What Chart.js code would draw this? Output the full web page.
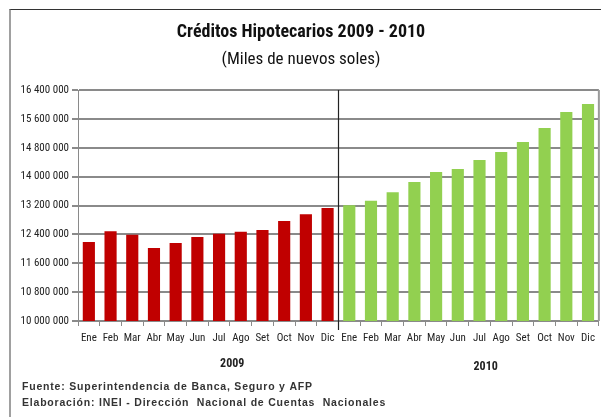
<!DOCTYPE html>
<html>
<head>
<meta charset="utf-8">
<script src="https://cdn.jsdelivr.net/npm/chart.js@4/dist/chart.umd.min.js"></script>
<style>
html,body{margin:0;padding:0;background:#fff;}
#wrap{position:relative;width:601px;height:417px;overflow:hidden;}
#frame{position:absolute;left:9px;top:9px;width:600px;height:420px;border-top:1px solid #333;border-left:2px solid #a0a0a0;}
canvas{position:absolute;left:0;top:0;}
</style>
</head>
<body>
<div id="wrap">
<div id="frame"></div>
<canvas id="c" width="601" height="417"></canvas>
</div>
<script>
const months = ["Ene","Feb","Mar","Abr","May","Jun","Jul","Ago","Set","Oct","Nov","Dic"];
const years = ["2009","2010"];
const values2009 = [12190000,12490000,12390000,12020000,12160000,12330000,12420000,12470000,12520000,12770000,12960000,13130000];
const values2010 = [13210000,13330000,13570000,13850000,14130000,14210000,14460000,14680000,14960000,15350000,15790000,16010000];
const titleText = "Créditos Hipotecarios 2009 - 2010";
const subtitleText = "(Miles de nuevos soles)";
const footerLines = ["Fuente: Superintendencia de Banca, Seguro y AFP","Elaboración: INEI - Dirección  Nacional de Cuentas  Nacionales"];
const colors = {"2009":"#C00000","2010":"#92D050"};

const NARROW = '"Liberation Sans Narrow","Arial Narrow","Roboto Condensed",sans-serif';
const labels = [...months, ...months];
const data = [...values2009, ...values2010];
const barColors = [...values2009.map(()=>colors["2009"]), ...values2010.map(()=>colors["2010"])];

function fmt(v){return String(Math.round(v)).replace(/\B(?=(\d{3})+(?!\d))/g,' ');}

const decor = {
  id:'decor',
  afterDraw(chart){
    const ctx = chart.ctx, a = chart.chartArea, x = chart.scales.x;
    ctx.save();
    // right border of plot
    ctx.strokeStyle = '#9a9a9a'; ctx.lineWidth = 2;
    ctx.beginPath(); ctx.moveTo(a.right, a.top); ctx.lineTo(a.right, a.bottom); ctx.stroke();
    // divider
    const n = values2009.length;
    const xd = Math.round((x.getPixelForValue(n-1)+x.getPixelForValue(n))/2)+0.5;
    ctx.strokeStyle = '#222'; ctx.lineWidth = 1.2;
    ctx.beginPath(); ctx.moveTo(xd, a.top); ctx.lineTo(xd, a.bottom+9); ctx.stroke();
    // titles
    ctx.fillStyle = '#111'; ctx.textAlign = 'center'; ctx.textBaseline = 'middle';
    ctx.font = 'bold 18px ' + NARROW;
    ctx.fillText(titleText, 301, 32);
    ctx.font = '17px ' + NARROW;
    ctx.fillText(subtitleText, 301, 60);
    // years
    ctx.font = 'bold 12px ' + NARROW;
    ctx.fillStyle = '#222';
    const c1 = (x.getPixelForValue(0)+x.getPixelForValue(n-1))/2;
    const c2 = (x.getPixelForValue(n)+x.getPixelForValue(2*n-1))/2;
    ctx.fillText(years[0], c1+24, 364);
    ctx.fillText(years[1], c2+17, 367);
    // footer
    ctx.textAlign = 'left';
    ctx.font = 'bold 10.5px "Liberation Sans",Arial,sans-serif';
    try { ctx.letterSpacing = '0.8px'; } catch(e) {}
    ctx.fillStyle = '#333';
    ctx.fillText(footerLines[0], 22, 387);
    ctx.fillText(footerLines[1], 22, 403);
    ctx.restore();
  }
};

new Chart(document.getElementById('c'), {
  type:'bar',
  data:{labels:labels, datasets:[{data:data, backgroundColor:barColors, barPercentage:0.56, categoryPercentage:1.0, borderWidth:0}]},
  options:{
    responsive:false, animation:false,
    layout:{padding:{top:90,right:2,left:0,bottom:0}},
    plugins:{legend:{display:false}, tooltip:{enabled:false}},
    scales:{
      x:{
        grid:{display:true, drawOnChartArea:false, drawTicks:true, tickLength:5, color:'#8a8a8a', offset:true},
        border:{display:true, color:'#8a8a8a', width:2},
        ticks:{color:'#222', font:{family:NARROW, size:11}, maxRotation:0, autoSkip:false, padding:6},
        afterFit(s){ s.height = 417-321; }
      },
      y:{
        min:10000000, max:16400000,
        grid:{color:'#8a8a8a', lineWidth:2, drawTicks:true, tickLength:6, tickColor:'#8a8a8a'},
        border:{display:true, color:'#8a8a8a', width:1},
        ticks:{stepSize:800000, color:'#222', font:{family:NARROW, size:11}, padding:3, callback:(v)=>fmt(v)},
        afterFit(s){ s.width = 78; }
      }
    }
  },
  plugins:[decor]
});
</script>
</body>
</html>
